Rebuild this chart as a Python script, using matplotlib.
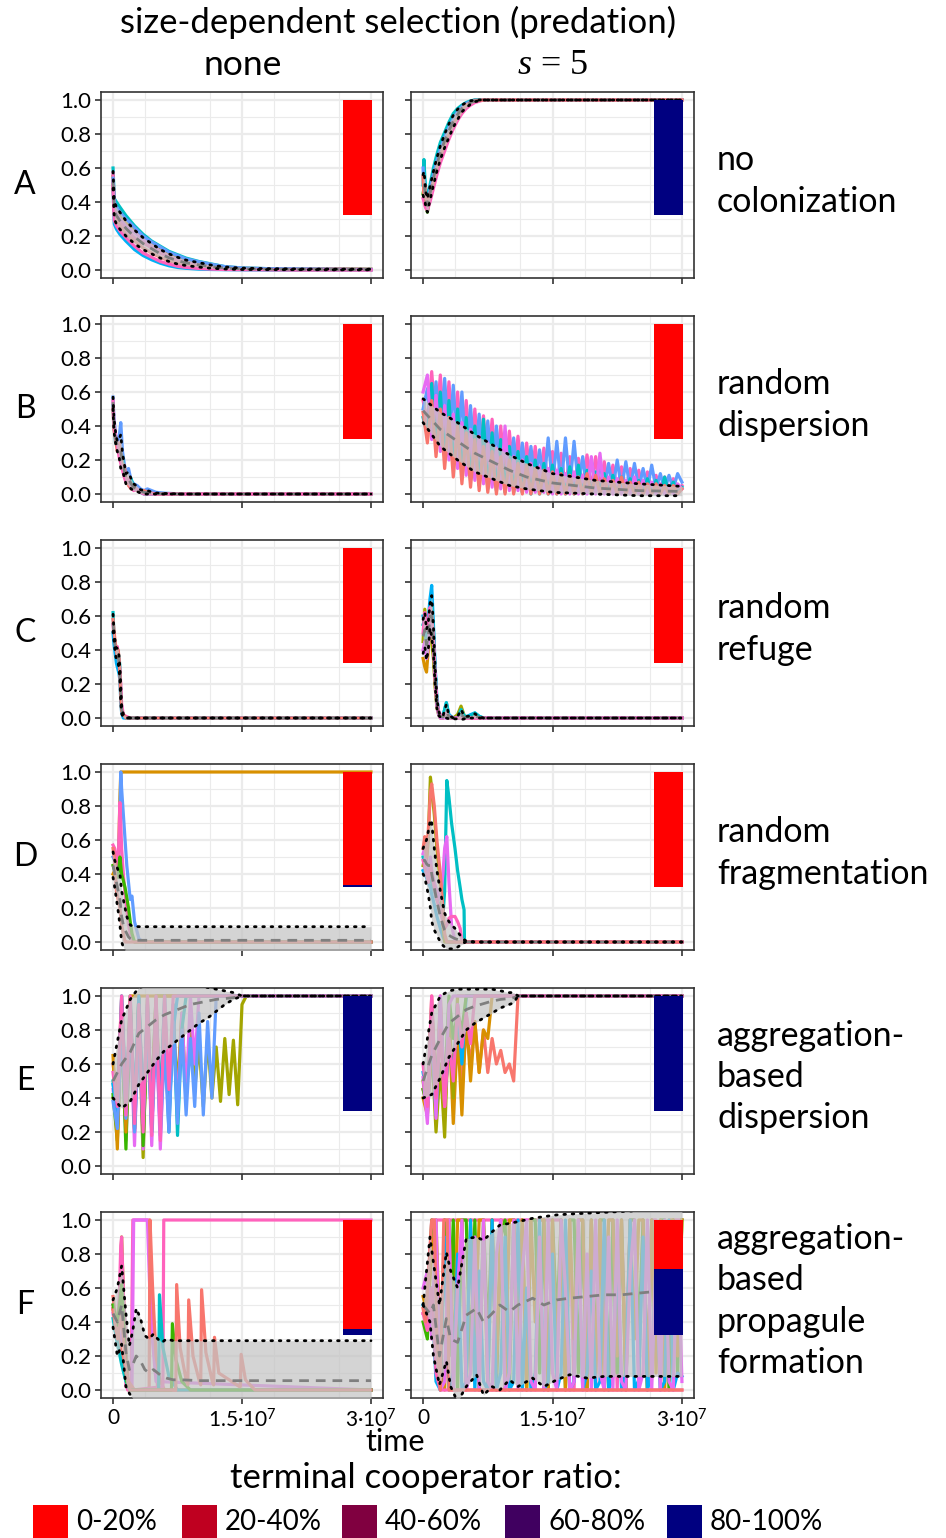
import numpy as np
import matplotlib
matplotlib.use("Agg")
import matplotlib.pyplot as plt
from matplotlib.patches import Rectangle

plt.rcParams['font.family'] = ['Lato', 'DejaVu Sans']
plt.rcParams['mathtext.fontset'] = 'custom'
plt.rcParams['mathtext.rm'] = 'Lato'
plt.rcParams['mathtext.it'] = 'Liberation Serif:italic'

# ---------------------------------------------------------------- data
# time in units of 10^6
TITLE = "size-dependent selection (predation)"
COLS = ["none", "$s$ = 5"]
ROW_LETTERS = ["A", "B", "C", "D", "E", "F"]
ROW_NAMES = ["no\ncolonization", "random\ndispersion", "random\nrefuge",
             "random\nfragmentation", "aggregation-\nbased\ndispersion",
             "aggregation-\nbased\npropagule\nformation"]
BAR_CATS = ["0-20%", "20-40%", "40-60%", "60-80%", "80-100%"]
X_TICKS = [0, 15, 30]
X_TICKLABELS = ["0", "$1.5\u00b710^{7}$", "$3\u00b710^{7}$"]
Y_TICKS = [0.0, 0.2, 0.4, 0.6, 0.8, 1.0]

G61 = list(np.linspace(0, 30, 61))

# ---- A / none
A0_t = [0, 0.15, 0.4, 0.8, 1.5, 2.5, 3.5, 4.5, 5.5, 6.5, 7.5, 8.5, 10, 11.5, 13, 15, 18, 22, 26, 30]
A0_runs = [
    [0.60, 0.42, 0.40, 0.37, 0.32, 0.26, 0.21, 0.17, 0.14, 0.11, 0.09, 0.07, 0.05, 0.035, 0.02, 0.012, 0.008, 0.006, 0.004, 0.003],
    [0.48, 0.27, 0.24, 0.21, 0.17, 0.12, 0.085, 0.06, 0.04, 0.025, 0.015, 0.01, 0.005, 0.003, 0.002, 0.001, 0, 0, 0, 0],
    [0.55, 0.38, 0.35, 0.32, 0.28, 0.23, 0.19, 0.16, 0.13, 0.10, 0.08, 0.06, 0.045, 0.03, 0.018, 0.01, 0.008, 0.006, 0.008, 0.005],
    [0.52, 0.36, 0.33, 0.30, 0.26, 0.22, 0.18, 0.14, 0.11, 0.08, 0.06, 0.045, 0.03, 0.02, 0.012, 0.008, 0.005, 0.004, 0.003, 0.002],
    [0.57, 0.35, 0.31, 0.28, 0.24, 0.19, 0.16, 0.13, 0.10, 0.075, 0.055, 0.04, 0.025, 0.015, 0.01, 0.006, 0.004, 0.003, 0.004, 0.003],
    [0.50, 0.32, 0.29, 0.26, 0.21, 0.17, 0.13, 0.10, 0.075, 0.055, 0.04, 0.03, 0.02, 0.012, 0.008, 0.005, 0.003, 0.002, 0.002, 0.002],
    [0.54, 0.40, 0.37, 0.34, 0.30, 0.25, 0.20, 0.165, 0.135, 0.105, 0.085, 0.065, 0.048, 0.033, 0.02, 0.012, 0.008, 0.006, 0.005, 0.004],
    [0.49, 0.29, 0.26, 0.23, 0.19, 0.14, 0.10, 0.075, 0.05, 0.035, 0.022, 0.015, 0.009, 0.005, 0.003, 0.002, 0.001, 0, 0, 0],
]
A0_mean = [0.53, 0.35, 0.32, 0.29, 0.245, 0.195, 0.155, 0.125, 0.095, 0.072, 0.055, 0.042, 0.03, 0.019, 0.012, 0.007, 0.005, 0.004, 0.003, 0.003]
A0_hi = [0.58, 0.40, 0.37, 0.34, 0.29, 0.235, 0.19, 0.155, 0.12, 0.095, 0.075, 0.058, 0.043, 0.028, 0.018, 0.011, 0.008, 0.006, 0.005, 0.005]
A0_lo = [0.48, 0.30, 0.27, 0.24, 0.20, 0.155, 0.12, 0.095, 0.07, 0.05, 0.035, 0.026, 0.017, 0.01, 0.006, 0.003, 0.002, 0.002, 0.001, 0.001]
A0_bar = [1.0, 0, 0, 0, 0]

# ---- A / s=5
A1_t = [0, 0.1, 0.2, 0.35, 0.5, 0.8, 1.2, 1.6, 2.0, 2.5, 3.0, 3.5, 4.0, 4.5, 5.0, 5.5, 6.0, 7, 10, 15, 20, 25, 30]
A1_runs = [
    [0.50, 0.65, 0.55, 0.45, 0.42, 0.50, 0.60, 0.68, 0.75, 0.81, 0.87, 0.92, 0.95, 0.97, 0.985, 0.995, 1.0, 1.0, 1.0, 1.0, 1.0, 1.0, 1.0],
    [0.45, 0.48, 0.44, 0.37, 0.34, 0.44, 0.53, 0.61, 0.69, 0.76, 0.82, 0.88, 0.92, 0.95, 0.975, 0.99, 1.0, 1.0, 1.0, 1.0, 1.0, 1.0, 1.0],
    [0.60, 0.52, 0.48, 0.42, 0.40, 0.47, 0.56, 0.64, 0.71, 0.78, 0.84, 0.89, 0.93, 0.96, 0.98, 0.99, 1.0, 1.0, 1.0, 1.0, 1.0, 1.0, 1.0],
    [0.42, 0.40, 0.38, 0.36, 0.35, 0.40, 0.48, 0.56, 0.63, 0.70, 0.77, 0.83, 0.88, 0.92, 0.95, 0.97, 0.985, 1.0, 1.0, 1.0, 1.0, 1.0, 1.0],
    [0.55, 0.45, 0.50, 0.40, 0.38, 0.45, 0.52, 0.60, 0.67, 0.74, 0.80, 0.86, 0.90, 0.94, 0.97, 0.985, 0.995, 1.0, 1.0, 1.0, 1.0, 1.0, 1.0],
]
A1_mean = [0.50, 0.50, 0.47, 0.40, 0.38, 0.45, 0.54, 0.62, 0.69, 0.76, 0.82, 0.875, 0.915, 0.95, 0.97, 0.985, 0.995, 1.0, 1.0, 1.0, 1.0, 1.0, 1.0]
A1_hi = [0.56, 0.58, 0.53, 0.45, 0.42, 0.49, 0.58, 0.66, 0.73, 0.80, 0.86, 0.91, 0.945, 0.97, 0.985, 0.995, 1.0, 1.0, 1.0, 1.0, 1.0, 1.0, 1.0]
A1_lo = [0.44, 0.42, 0.41, 0.36, 0.34, 0.41, 0.50, 0.58, 0.65, 0.72, 0.78, 0.84, 0.885, 0.93, 0.955, 0.975, 0.99, 1.0, 1.0, 1.0, 1.0, 1.0, 1.0]
A1_bar = [0, 0, 0, 0, 1.0]

# ---- B / none
B0_t = [0, 0.1, 0.3, 0.5, 0.7, 0.9, 1.1, 1.3, 1.5, 1.8, 2.1, 2.4, 2.8, 3.2, 3.6, 4.0, 4.5, 5.0, 6, 8, 10, 15, 20, 25, 30]
B0_runs = [
    [0.57, 0.45, 0.35, 0.30, 0.33, 0.42, 0.25, 0.18, 0.12, 0.15, 0.08, 0.06, 0.05, 0.03, 0.02, 0.03, 0.02, 0.01, 0.005, 0, 0, 0, 0, 0, 0],
    [0.52, 0.40, 0.30, 0.28, 0.25, 0.20, 0.22, 0.12, 0.08, 0.06, 0.09, 0.04, 0.02, 0.01, 0, 0, 0, 0, 0, 0, 0, 0, 0, 0, 0],
    [0.50, 0.38, 0.32, 0.25, 0.30, 0.22, 0.15, 0.17, 0.10, 0.05, 0.03, 0.05, 0.02, 0.01, 0.02, 0.01, 0.005, 0, 0, 0, 0, 0, 0, 0, 0],
    [0.55, 0.42, 0.34, 0.29, 0.22, 0.18, 0.14, 0.10, 0.07, 0.09, 0.04, 0.02, 0.03, 0.01, 0, 0, 0, 0, 0, 0, 0, 0, 0, 0, 0],
]
B0_mean = [0.54, 0.41, 0.33, 0.28, 0.27, 0.25, 0.19, 0.14, 0.09, 0.09, 0.06, 0.04, 0.03, 0.015, 0.01, 0.01, 0.006, 0.003, 0.001, 0, 0, 0, 0, 0, 0]
B0_hi = [0.57, 0.45, 0.36, 0.31, 0.32, 0.35, 0.24, 0.18, 0.12, 0.13, 0.09, 0.06, 0.045, 0.025, 0.02, 0.02, 0.012, 0.006, 0.003, 0, 0, 0, 0, 0, 0]
B0_lo = [0.50, 0.37, 0.30, 0.25, 0.22, 0.15, 0.14, 0.10, 0.06, 0.05, 0.03, 0.02, 0.015, 0.005, 0, 0, 0, 0, 0, 0, 0, 0, 0, 0, 0]
B0_bar = [1.0, 0, 0, 0, 0]

# ---- B / s=5  (runs on the 0.5-step grid)
B1_runs = [
    [0.55, 0.42, 0.72, 0.38, 0.70, 0.33, 0.66, 0.28, 0.60, 0.24,
     0.55, 0.20, 0.50, 0.17, 0.46, 0.14, 0.44, 0.12, 0.40, 0.10,
     0.37, 0.09, 0.34, 0.08, 0.30, 0.07, 0.28, 0.06, 0.27, 0.05,
     0.25, 0.05, 0.24, 0.04, 0.22, 0.04, 0.21, 0.04, 0.23, 0.03,
     0.22, 0.03, 0.19, 0.03, 0.17, 0.03, 0.16, 0.02, 0.15, 0.02,
     0.14, 0.02, 0.13, 0.02, 0.11, 0.02, 0.10, 0.02, 0.09, 0.02,
     0.05],
    [0.50, 0.62, 0.36, 0.66, 0.31, 0.68, 0.27, 0.64, 0.23, 0.60,
     0.19, 0.52, 0.16, 0.47, 0.13, 0.43, 0.11, 0.40, 0.10, 0.36,
     0.08, 0.33, 0.07, 0.30, 0.06, 0.28, 0.05, 0.26, 0.05, 0.33,
     0.05, 0.31, 0.04, 0.33, 0.04, 0.31, 0.04, 0.22, 0.03, 0.20,
     0.03, 0.19, 0.03, 0.18, 0.03, 0.20, 0.03, 0.19, 0.03, 0.18,
     0.03, 0.15, 0.03, 0.17, 0.03, 0.12, 0.02, 0.11, 0.03, 0.12,
     0.07],
    [0.45, 0.35, 0.65, 0.28, 0.60, 0.22, 0.55, 0.17, 0.50, 0.12,
     0.45, 0.08, 0.40, 0.05, 0.44, 0.03, 0.36, 0.02, 0.32, 0.01,
     0.28, 0.01, 0.25, 0.01, 0.22, 0.00, 0.20, 0.00, 0.18, 0.00,
     0.17, 0.00, 0.15, 0.00, 0.16, 0.00, 0.17, 0.00, 0.14, 0.00,
     0.13, 0.00, 0.12, 0.00, 0.11, 0.00, 0.10, 0.00, 0.09, 0.00,
     0.08, 0.00, 0.09, 0.00, 0.08, 0.00, 0.10, 0.00, 0.07, 0.00,
     0.04],
    [0.60, 0.70, 0.32, 0.58, 0.25, 0.52, 0.20, 0.47, 0.15, 0.42,
     0.11, 0.38, 0.08, 0.34, 0.06, 0.30, 0.04, 0.27, 0.03, 0.40,
     0.02, 0.22, 0.02, 0.20, 0.01, 0.18, 0.01, 0.16, 0.01, 0.15,
     0.00, 0.14, 0.00, 0.12, 0.00, 0.13, 0.00, 0.11, 0.00, 0.22,
     0.00, 0.24, 0.00, 0.10, 0.00, 0.09, 0.00, 0.08, 0.00, 0.10,
     0.00, 0.08, 0.00, 0.07, 0.00, 0.06, 0.00, 0.05, 0.00, 0.06,
     0.03],
    [0.48, 0.30, 0.55, 0.22, 0.50, 0.15, 0.45, 0.10, 0.40, 0.06,
     0.36, 0.04, 0.32, 0.02, 0.28, 0.01, 0.25, 0.00, 0.22, 0.00,
     0.20, 0.00, 0.18, 0.00, 0.17, 0.00, 0.15, 0.00, 0.14, 0.00,
     0.13, 0.00, 0.12, 0.00, 0.11, 0.00, 0.10, 0.00, 0.12, 0.00,
     0.11, 0.00, 0.09, 0.00, 0.08, 0.00, 0.10, 0.00, 0.07, 0.00,
     0.07, 0.00, 0.06, 0.00, 0.06, 0.00, 0.05, 0.00, 0.05, 0.00,
     0.03],
]
B1_band_t = [0, 2, 4, 6, 8, 10, 12, 15, 20, 25, 30]
B1_hi = [0.56, 0.48, 0.42, 0.35, 0.29, 0.23, 0.18, 0.12, 0.08, 0.06, 0.045]
B1_mean = [0.49, 0.38, 0.31, 0.24, 0.19, 0.14, 0.10, 0.065, 0.035, 0.02, 0.015]
B1_lo = [0.42, 0.28, 0.20, 0.13, 0.09, 0.05, 0.03, 0.01, 0.0, -0.01, -0.01]
B1_bar = [1.0, 0, 0, 0, 0]

# ---- C / none
C0_t = [0, 0.1, 0.2, 0.3, 0.4, 0.5, 0.6, 0.7, 0.8, 0.9, 1.0, 1.2, 1.5, 2, 3, 5, 10, 20, 30]
C0_runs = [
    [0.62, 0.50, 0.45, 0.42, 0.41, 0.40, 0.38, 0.36, 0.30, 0.15, 0.05, 0.01, 0.0, 0, 0, 0, 0, 0, 0],
    [0.55, 0.48, 0.44, 0.40, 0.38, 0.42, 0.37, 0.33, 0.28, 0.20, 0.08, 0.02, 0.01, 0, 0, 0, 0, 0, 0],
    [0.50, 0.44, 0.40, 0.36, 0.32, 0.30, 0.28, 0.26, 0.22, 0.10, 0.03, 0, 0, 0, 0, 0, 0, 0, 0],
    [0.58, 0.52, 0.47, 0.43, 0.39, 0.36, 0.40, 0.35, 0.25, 0.12, 0.04, 0.02, 0, 0, 0, 0, 0, 0, 0],
]
C0_mean = [0.56, 0.49, 0.44, 0.40, 0.375, 0.37, 0.36, 0.325, 0.26, 0.14, 0.05, 0.012, 0.003, 0, 0, 0, 0, 0, 0]
C0_hi = [0.61, 0.52, 0.47, 0.43, 0.41, 0.41, 0.40, 0.36, 0.30, 0.19, 0.075, 0.022, 0.008, 0, 0, 0, 0, 0, 0]
C0_lo = [0.51, 0.46, 0.41, 0.37, 0.34, 0.33, 0.32, 0.29, 0.22, 0.09, 0.025, 0.002, 0, 0, 0, 0, 0, 0, 0]
C0_bar = [1.0, 0, 0, 0, 0]

# ---- C / s=5
C1_t = [0, 0.2, 0.4, 0.6, 0.8, 1.0, 1.2, 1.4, 1.6, 1.8, 2.0, 2.3, 2.7, 3.0, 3.5, 4.0, 4.4, 4.8, 5.5, 6.0, 6.5, 7, 10, 20, 30]
C1_runs = [
    [0.60, 0.55, 0.50, 0.58, 0.70, 0.78, 0.55, 0.30, 0.12, 0.04, 0.01, 0.01, 0.09, 0.02, 0.0, 0.0, 0.01, 0.0, 0.02, 0.03, 0.01, 0.0, 0, 0, 0],
    [0.35, 0.30, 0.27, 0.40, 0.55, 0.50, 0.40, 0.20, 0.08, 0.03, 0.01, 0, 0.02, 0.0, 0, 0, 0, 0, 0, 0, 0, 0, 0, 0, 0],
    [0.45, 0.64, 0.45, 0.50, 0.52, 0.45, 0.35, 0.18, 0.06, 0.02, 0.0, 0.0, 0.02, 0.0, 0.0, 0.02, 0.07, 0.01, 0.0, 0.01, 0.0, 0, 0, 0, 0],
    [0.55, 0.58, 0.40, 0.45, 0.62, 0.66, 0.52, 0.28, 0.10, 0.03, 0.01, 0.01, 0.09, 0.01, 0, 0, 0.05, 0.01, 0.01, 0.03, 0.01, 0, 0, 0, 0],
    [0.40, 0.45, 0.35, 0.42, 0.55, 0.58, 0.45, 0.22, 0.07, 0.02, 0, 0, 0, 0, 0, 0, 0, 0, 0, 0, 0, 0, 0, 0, 0],
    [0.50, 0.62, 0.52, 0.55, 0.65, 0.60, 0.48, 0.25, 0.10, 0.04, 0.02, 0.01, 0.03, 0.01, 0, 0, 0, 0, 0, 0, 0, 0, 0, 0, 0],
]
C1_mean = [0.48, 0.52, 0.43, 0.48, 0.60, 0.60, 0.46, 0.24, 0.09, 0.03, 0.01, 0.005, 0.04, 0.007, 0, 0.003, 0.02, 0.003, 0.005, 0.012, 0.003, 0, 0, 0, 0]
C1_hi = [0.58, 0.62, 0.52, 0.56, 0.67, 0.72, 0.54, 0.29, 0.12, 0.04, 0.015, 0.01, 0.08, 0.015, 0.0, 0.008, 0.05, 0.008, 0.012, 0.025, 0.008, 0, 0, 0, 0]
C1_lo = [0.38, 0.42, 0.34, 0.40, 0.53, 0.48, 0.38, 0.19, 0.06, 0.015, 0.005, 0, 0.0, -0.005, -0.005, -0.005, -0.01, -0.005, 0, 0, 0, 0, 0, 0, 0]
C1_bar = [1.0, 0, 0, 0, 0]

# ---- D / none
D0_t = [0, 0.2, 0.4, 0.6, 0.8, 0.9, 1.0, 1.2, 1.4, 1.6, 1.8, 2.0, 2.2, 2.5, 3.0, 3.5, 5, 10, 20, 30]
D0_runs = [
    [0.40, 0.42, 0.45, 0.40, 0.85, 1.0, 1.0, 1.0, 1.0, 1.0, 1.0, 1.0, 1.0, 1.0, 1.0, 1.0, 1.0, 1.0, 1.0, 1.0],
    [0.50, 0.48, 0.45, 0.42, 0.70, 1.0, 0.90, 0.75, 0.60, 0.45, 0.35, 0.25, 0.27, 0.12, 0.02, 0, 0, 0, 0, 0],
    [0.57, 0.55, 0.50, 0.45, 0.82, 0.70, 0.55, 0.40, 0.28, 0.18, 0.10, 0.05, 0.02, 0, 0, 0, 0, 0, 0, 0],
    [0.45, 0.42, 0.40, 0.38, 0.50, 0.45, 0.40, 0.36, 0.32, 0.26, 0.20, 0.12, 0.05, 0, 0, 0, 0, 0, 0, 0],
    [0.55, 0.48, 0.30, 0.25, 0.20, 0.15, 0.10, 0.05, 0, 0, 0, 0, 0, 0, 0, 0, 0, 0, 0, 0],
]
D0_hi = [0.53, 0.48, 0.45, 0.42, 0.40, 0.35, 0.30, 0.25, 0.20, 0.15, 0.12, 0.10, 0.095, 0.092, 0.09, 0.09, 0.09, 0.09, 0.09, 0.09]
D0_mean = [0.45, 0.40, 0.35, 0.30, 0.25, 0.20, 0.15, 0.10, 0.07, 0.05, 0.03, 0.02, 0.015, 0.012, 0.01, 0.01, 0.01, 0.01, 0.01, 0.01]
D0_lo = [0.38, 0.32, 0.25, 0.18, 0.10, 0.05, 0.0, -0.03, -0.05, -0.07, -0.07, -0.07, -0.07, -0.07, -0.07, -0.07, -0.07, -0.07, -0.07, -0.07]
D0_bar = [0.985, 0, 0, 0, 0.015]

# ---- D / s=5
D1_t = [0, 0.2, 0.4, 0.6, 0.85, 1.0, 1.3, 1.6, 2.0, 2.3, 2.5, 2.75, 3.0, 3.3, 3.7, 4.0, 4.3, 4.5, 4.75, 4.8, 6, 10, 20, 30]
D1_runs = [
    [0.42, 0.40, 0.38, 0.35, 0.32, 0.28, 0.22, 0.15, 0.08, 0.03, 0.01, 0, 0, 0, 0, 0, 0, 0, 0, 0, 0, 0, 0, 0],
    [0.45, 0.50, 0.48, 0.60, 0.97, 0.90, 0.75, 0.55, 0.35, 0.10, 0.0, 0, 0, 0, 0, 0, 0, 0, 0, 0, 0, 0, 0, 0],
    [0.50, 0.45, 0.42, 0.40, 0.38, 0.35, 0.30, 0.25, 0.20, 0.15, 0.30, 0.95, 0.85, 0.70, 0.55, 0.42, 0.32, 0.25, 0.19, 0.0, 0, 0, 0, 0],
    [0.52, 0.55, 0.45, 0.40, 0.50, 0.42, 0.35, 0.30, 0.25, 0.40, 0.55, 0.62, 0.35, 0.10, 0.0, 0, 0, 0, 0, 0, 0, 0, 0, 0],
    [0.48, 0.44, 0.40, 0.35, 0.45, 0.40, 0.32, 0.25, 0.18, 0.12, 0.08, 0.10, 0.14, 0.15, 0.15, 0.12, 0.08, 0.0, 0, 0, 0, 0, 0, 0],
    [0.55, 0.62, 0.50, 0.65, 0.88, 0.93, 0.80, 0.60, 0.40, 0.20, 0.05, 0, 0, 0, 0, 0, 0, 0, 0, 0, 0, 0, 0, 0],
]
D1_hi = [0.55, 0.58, 0.60, 0.65, 0.72, 0.70, 0.55, 0.42, 0.30, 0.22, 0.17, 0.14, 0.12, 0.10, 0.08, 0.06, 0.04, 0.03, 0.02, 0.01, 0, 0, 0, 0]
D1_mean = [0.48, 0.48, 0.46, 0.45, 0.45, 0.40, 0.32, 0.24, 0.15, 0.10, 0.07, 0.05, 0.04, 0.03, 0.02, 0.015, 0.01, 0.008, 0.005, 0.0, 0, 0, 0, 0]
D1_lo = [0.40, 0.38, 0.33, 0.28, 0.20, 0.12, 0.07, 0.04, 0.0, -0.02, -0.03, -0.04, -0.04, -0.04, -0.04, -0.03, -0.02, -0.015, -0.01, 0, 0, 0, 0, 0]
D1_bar = [1.0, 0, 0, 0, 0]

# ---- E / none
E0_t = [0, 0.5, 1, 1.5, 2, 2.5, 3, 3.5, 4, 4.5, 5, 5.5, 6, 6.5, 7, 7.5, 8, 8.5,
        9, 9.5, 10, 10.5, 11, 11.5, 12, 12.5, 13, 13.5, 14, 14.5, 15, 15.5, 16, 30]
E0_runs = [
    [0.40, 0.30, 0.85, 0.25, 0.95, 0.20, 0.90, 0.05, 0.98, 0.30, 0.95, 0.35, 0.90, 0.40, 0.85, 0.45, 0.90,
     0.40, 0.88, 0.45, 0.72, 0.35, 0.75, 0.40, 0.70, 0.38, 0.75, 0.42, 0.74, 0.36, 0.95, 1.0, 1.0, 1.0],
    [0.45, 0.25, 0.95, 0.15, 0.85, 0.12, 0.90, 0.10, 0.95, 0.12, 0.85, 0.10, 0.80, 0.25, 0.95, 0.30, 0.90,
     0.40, 1.0, 0.60, 1.0] + [1.0] * 13,
    [0.50, 0.20, 0.90, 0.20, 1.0, 0.30, 1.0, 0.25, 0.90, 0.20, 0.95, 0.25, 0.90, 0.20, 0.95, 0.18, 0.80, 1.0] + [1.0] * 16,
    [0.42, 0.15, 0.85, 0.10, 0.95, 0.22, 1.0, 0.12, 0.80, 0.40, 1.0] + [1.0] * 23,
    [0.60, 0.40, 1.0, 0.35, 0.90, 0.30, 1.0, 0.30, 0.90, 0.35, 1.0, 0.30, 1.0] + [1.0] * 21,
    [0.65, 0.10, 0.95, 0.20, 1.0] + [1.0] * 29,
    [0.48, 0.30, 1.0, 0.40, 0.90, 0.35, 1.0, 0.30, 0.95, 0.25, 0.90, 0.35, 1.0, 0.30, 0.80, 1.0] + [1.0] * 18,
    [0.38, 0.22, 0.80, 0.28, 0.90, 0.20, 0.75, 0.25, 0.85, 0.22, 0.80, 0.18, 0.70, 0.20, 0.85, 0.25, 0.80,
     0.30, 0.75, 0.35, 0.90, 0.30, 0.85, 0.40, 1.0] + [1.0] * 9,
    [0.55, 0.35, 1.0, 0.30, 1.0, 0.25, 0.95, 0.20, 1.0, 0.18, 1.0, 0.15, 1.0, 0.45, 1.0] + [1.0] * 19,
]
E0_band_t = [0, 1, 2, 3, 4, 5, 6, 7, 8, 9, 10, 11, 12, 13, 14, 15, 16, 30]
E0_mean = [0.50, 0.60, 0.67, 0.78, 0.82, 0.86, 0.89, 0.91, 0.93, 0.95, 0.96, 0.97, 0.98, 0.985, 0.99, 1.0, 1.0, 1.0]
E0_lo = [0.40, 0.34, 0.38, 0.48, 0.55, 0.62, 0.68, 0.72, 0.76, 0.80, 0.84, 0.87, 0.91, 0.95, 0.98, 1.0, 1.0, 1.0]
E0_hi = [0.60, 0.86, 0.98, 1.05, 1.06, 1.06, 1.06, 1.06, 1.06, 1.06, 1.06, 1.05, 1.04, 1.03, 1.02, 1.0, 1.0, 1.0]
E0_bar = [0, 0, 0, 0, 1.0]

# ---- E / s=5
E1_t = [0, 0.5, 1, 1.5, 2, 2.5, 3, 3.5, 4, 4.5, 5, 5.5, 6, 6.5, 7, 7.5, 8, 8.5,
        9, 9.5, 10, 10.5, 11, 30]
E1_runs = [
    [0.45, 0.35, 1.0, 0.30, 1.0, 0.40, 0.85, 0.45, 0.95, 0.50, 0.80, 0.60, 0.85, 0.55, 0.80, 0.55, 0.75,
     0.60, 0.68, 0.55, 0.60, 0.50, 1.0, 1.0],
    [0.40, 0.30, 0.90, 0.35, 0.95, 0.30, 0.85, 0.25, 0.80, 0.30, 0.90, 0.50, 0.85, 0.55, 0.80, 0.75, 1.0] + [1.0] * 7,
    [0.50, 0.30, 0.70, 0.20, 0.60, 0.17, 0.90, 0.40, 1.0] + [1.0] * 15,
    [0.55, 0.40, 0.80, 0.30, 0.90, 0.40, 0.70, 0.55, 0.95, 0.60, 1.0] + [1.0] * 13,
    [0.45, 0.35, 0.95, 0.40, 0.85, 0.45, 1.0, 0.75, 0.90, 0.80, 1.0] + [1.0] * 13,
    [0.52, 0.25, 0.90, 0.28, 1.0, 0.35, 0.95, 1.0] + [1.0] * 16,
    [0.60, 0.35, 1.0, 0.40, 0.80, 0.35, 0.75, 0.50, 0.95, 0.70, 0.90, 0.72, 1.0] + [1.0] * 11,
]
E1_band_t = [0, 1, 2, 3, 4, 5, 6, 7, 8, 9, 10, 10.5, 11, 30]
E1_mean = [0.50, 0.65, 0.75, 0.84, 0.88, 0.92, 0.94, 0.955, 0.97, 0.98, 0.985, 0.99, 1.0, 1.0]
E1_lo = [0.40, 0.42, 0.52, 0.64, 0.72, 0.80, 0.84, 0.87, 0.90, 0.93, 0.95, 0.96, 1.0, 1.0]
E1_hi = [0.60, 0.90, 1.0, 1.03, 1.04, 1.04, 1.04, 1.04, 1.04, 1.03, 1.02, 1.02, 1.0, 1.0]
E1_bar = [0, 0, 0, 0, 1.0]

# ---- F / none (each run with its own times)
F0_run_t = [
    [0, 0.4, 0.8, 1.0, 1.3, 1.8, 30],
    [0, 0.3, 0.6, 0.9, 1.0, 1.5, 2.1, 2.3, 4.2, 4.6, 5.2, 30],
    [0, 0.4, 0.8, 1.2, 1.6, 2.2, 2.4, 4.0, 4.4, 5.0, 30],
    [0, 0.5, 1.0, 1.8, 2.5, 4.2, 4.3, 4.6, 5.0, 5.5, 6.0, 30],
    [0, 0.5, 1.0, 1.7, 2.3, 5.8, 5.9, 30],
    [0, 0.5, 1.0, 1.5, 2.0, 5.3, 5.4, 5.8, 6.5, 7.5, 30],
    [0, 0.5, 1.0, 1.6, 2.0, 6.8, 6.9, 7.3, 8.0, 9.0, 30],
    [0, 0.5, 1.0, 1.5, 2.0, 7.3, 7.4, 7.8, 8.5, 8.7, 8.8, 9.3, 10.0, 10.2, 10.3, 10.8, 11.6,
     11.7, 11.8, 12.3, 14.7, 14.8, 14.9, 15.4, 16.5, 30],
]
F0_run_y = [
    [0.48, 0.35, 0.55, 0.90, 0.40, 0.0, 0.0],
    [0.50, 0.40, 0.30, 0.85, 0.90, 0.02, 0.0, 1.0, 1.0, 0.45, 0.0, 0.0],
    [0.45, 0.32, 0.25, 0.40, 0.05, 0.0, 1.0, 1.0, 0.40, 0.05, 0.0],
    [0.55, 0.35, 0.20, 0.05, 0.0, 0.0, 1.0, 0.60, 0.20, 0.05, 0.0, 0.0],
    [0.48, 0.30, 0.80, 0.0, 0.0, 0.02, 1.0, 1.0],
    [0.42, 0.28, 0.15, 0.05, 0.0, 0.0, 0.56, 0.25, 0.08, 0.0, 0.0],
    [0.50, 0.38, 0.62, 0.05, 0.0, 0.0, 0.39, 0.18, 0.05, 0.0, 0.0],
    [0.47, 0.30, 0.45, 0.10, 0.0, 0.0, 0.62, 0.25, 0.06, 0.03, 0.53, 0.20, 0.06, 0.03, 0.59, 0.22, 0.04,
     0.03, 0.31, 0.10, 0.02, 0.02, 0.21, 0.06, 0.0, 0.0],
]
F0_band_t = [0, 0.5, 1.0, 1.5, 1.9, 2.3, 2.7, 3.2, 3.7, 4.2, 4.7, 5.2, 5.7, 6.2, 7, 8, 10, 15, 20, 30]
F0_hi = [0.53, 0.60, 0.73, 0.45, 0.26, 0.35, 0.48, 0.42, 0.32, 0.30, 0.33, 0.30, 0.28, 0.30, 0.29, 0.29, 0.29, 0.29, 0.29, 0.29]
F0_mean = [0.45, 0.40, 0.50, 0.22, 0.12, 0.15, 0.20, 0.17, 0.12, 0.10, 0.12, 0.10, 0.08, 0.07, 0.06, 0.06, 0.055, 0.055, 0.055, 0.055]
F0_lo = [0.37, 0.20, 0.27, 0.02, -0.02, -0.05, -0.08, -0.08, -0.09, -0.09, -0.09, -0.10, -0.10, -0.10, -0.10, -0.10, -0.10, -0.10, -0.10, -0.10]
F0_bar = [0.948, 0, 0, 0, 0.052]

# ---- F / s=5
F1_run_y_grid = [
    [0.45, 0.55, 1.0] + [1.0] * 30 +
    [0.20, 1.00, 0.00, 1.00, 1.00, 0.10, 1.00, 0.00, 1.00, 0.30, 1.00, 1.00, 0.00, 1.00,
     0.20, 1.00, 1.00, 0.00, 1.00, 0.10, 1.00, 1.00, 0.00, 1.00, 0.30, 1.00, 1.00, 1.00],
    [0.40, 0.30, 1.00, 0.90, 0.00, 1.00, 0.20, 1.00, 0.00, 1.00,
     1.00, 0.10, 1.00, 0.00, 1.00, 0.30, 1.00, 0.00, 0.90, 1.00,
     0.00, 1.00, 0.20, 1.00, 0.00, 1.00, 1.00, 0.10, 1.00, 0.00,
     1.00, 0.40, 1.00, 0.00, 1.00, 1.00, 0.10, 1.00, 0.00, 1.00,
     0.20, 1.00, 1.00, 0.00, 1.00, 0.10, 1.00, 0.00, 1.00, 1.00,
     0.30, 1.00, 0.00, 1.00, 0.20, 1.00, 1.00, 0.00, 1.00, 0.10,
     1.00],
    [0.55, 0.45, 0.80, 1.00, 0.20, 0.00, 1.00, 0.10, 1.00, 1.00,
     0.00, 1.00, 0.30, 1.00, 1.00, 0.00, 1.00, 0.10, 1.00, 0.00,
     1.00, 1.00, 0.20, 1.00, 0.00, 1.00, 0.40, 1.00, 1.00, 0.00,
     1.00, 0.10, 1.00, 0.00, 1.00, 0.30, 1.00, 1.00, 0.00, 1.00,
     0.10, 1.00, 0.00, 1.00, 1.00, 0.20, 1.00, 0.00, 1.00, 0.30,
     1.00, 1.00, 0.00, 1.00, 0.10, 1.00, 0.00, 1.00, 1.00, 0.20,
     1.00],
    [0.50, 0.40, 0.60, 0.05, 0.00, 0.90, 0.00, 0.10, 0.80, 0.00,
     0.05, 1.00, 0.00, 0.70, 0.05, 0.00, 1.00, 0.00, 0.10, 0.90,
     0.00, 0.05, 1.00, 0.00, 0.60, 0.00, 0.10, 1.00, 0.00, 0.05,
     0.80, 0.00, 0.10, 1.00, 0.00, 0.05, 0.90, 0.00, 0.10, 0.70,
     0.00, 0.05, 1.00, 0.00, 0.08, 0.85, 0.00, 0.10, 1.00, 0.00,
     0.06, 0.90, 0.00, 0.10, 0.75, 0.00, 0.05, 1.00, 0.00, 0.10,
     0.08],
    [0.60, 0.70, 0.30, 1.00, 0.00, 0.05, 1.00, 0.00, 0.60, 1.00,
     0.00, 0.10, 0.90, 0.00, 1.00, 0.05, 0.00, 0.80, 1.00, 0.00,
     0.10, 1.00, 0.00, 0.70, 1.00, 0.05, 0.00, 0.90, 0.00, 1.00,
     0.10, 0.00, 1.00, 0.60, 0.00, 0.05, 1.00, 0.00, 0.80, 0.00,
     1.00, 0.10, 0.00, 0.90, 0.00, 1.00, 0.05, 0.00, 0.70, 1.00,
     0.00, 0.10, 1.00, 0.00, 0.80, 0.00, 1.00, 0.05, 0.00, 0.90,
     0.05],
]
F1_run_t_extra = [[0, 0.5, 1.0, 1.5, 2.0, 30], [0, 0.3, 0.6, 1.0, 1.3, 1.6, 2.0, 2.4, 2.8, 3.0, 30]]
F1_run_y_extra = [[0.45, 0.35, 0.60, 0.10, 0.0, 0.0], [0.48, 0.40, 0.65, 1.0, 1.0, 0.3, 0.0, 1.0, 1.0, 0.0, 0.0]]
F1_band_t = [0, 0.8, 1.2, 1.9, 2.7, 3.2, 4.0, 5.0, 6.2, 7.0, 8.0, 8.9, 10, 11, 12.7, 14, 15.5, 17, 19, 21, 23, 25, 27, 30]
F1_hi = [0.50, 0.90, 0.75, 0.50, 0.81, 0.70, 0.60, 0.89, 0.90, 0.88, 0.93, 0.97, 0.98, 0.99, 1.01, 1.02, 1.03, 1.035, 1.04, 1.045, 1.05, 1.055, 1.06, 1.06]
F1_mean = [0.50, 0.45, 0.50, 0.20, 0.42, 0.30, 0.28, 0.44, 0.48, 0.40, 0.45, 0.50, 0.46, 0.50, 0.54, 0.50, 0.53, 0.54, 0.55, 0.56, 0.56, 0.57, 0.58, 0.58]
F1_lo = [0.50, 0.40, 0.20, 0.03, 0.17, 0.02, -0.07, 0.02, 0.09, -0.03, 0.02, 0.0, 0.06, 0.02, 0.07, 0.02, 0.06, 0.09, 0.07, 0.08, 0.08, 0.08, 0.08, 0.08]
F1_bar = [0.43, 0, 0, 0, 0.57]

# ---------------------------------------------------------------- style
HUE = {'salmon': '#F8766D', 'orange': '#D89000', 'olive': '#A3A500', 'green': '#39B600',
       'teal': '#00BFC4', 'blue': '#00B0F6', 'lblue': '#619CFF', 'purple': '#E76BF3',
       'pink': '#FF62BC'}
BAR_COLORS = ['#FF0000', '#BF0020', '#800040', '#400060', '#000080']

W, H = 946, 1538
fig = plt.figure(figsize=(W / 100, H / 100), dpi=100)
fig.patch.set_facecolor('white')

COL_X = [101, 411]
COL_W = [282, 283]
ROW_Y = [92, 316, 540, 764, 988, 1212]
ROW_H = 186


def fx(x):
    return x / W


def fy(y):
    return 1 - y / H


def draw_panel(ax, run_t, run_y, colors, band_t, lo, mean, hi, bar, row, col):
    for t, y, c in zip(run_t, run_y, colors):
        ax.plot(t, y, color=HUE[c], lw=2.3, zorder=2, solid_joinstyle='round')
    ax.fill_between(band_t, lo, hi, color='#C4C4C4', alpha=0.72, lw=0, zorder=3)
    ax.plot(band_t, mean, color='#7F7F7F', lw=2.0, ls=(0, (3.5, 2.5)), zorder=4)
    ax.plot(band_t, hi, color='black', lw=2.0, ls=(0, (0.6, 2.4)), dash_capstyle='round', zorder=4)
    ax.plot(band_t, lo, color='black', lw=2.0, ls=(0, (0.6, 2.4)), dash_capstyle='round', zorder=4)
    # terminal cooperator ratio bar (stacked, 80-100% at the bottom)
    base = 0.325
    span = 0.675
    bottom = base
    for frac, bc in zip(bar[::-1], BAR_COLORS[::-1]):
        if frac > 0:
            ax.bar(28.4, frac * span, width=3.35, bottom=bottom, color=bc, zorder=5, lw=0)
        bottom += frac * span
    ax.set_xlim(-1.4, 31.4)
    ax.set_ylim(-0.047, 1.047)
    ax.set_xticks(X_TICKS)
    ax.set_xticks([3.75, 11.25, 18.75, 26.25], minor=True)
    ax.set_yticks(Y_TICKS)
    ax.set_yticks([0.1, 0.3, 0.5, 0.7, 0.9], minor=True)
    ax.grid(which='major', color='#EBEBEB', lw=1.6, zorder=0)
    ax.grid(which='minor', color='#EBEBEB', lw=0.8, zorder=0)
    ax.set_axisbelow(True)
    ax.tick_params(which='major', length=4, width=1.2, color='#333333',
                   labelcolor='black', pad=3)
    ax.tick_params(axis='y', labelsize=16)
    ax.tick_params(axis='x', labelsize=15)
    ax.tick_params(which='minor', length=0)
    ax.set_yticklabels([f"{v:.1f}" for v in Y_TICKS] if col == 0 else [])
    ax.set_xticklabels(X_TICKLABELS if row == 5 else [])
    for s in ax.spines.values():
        s.set_color('#333333')
        s.set_linewidth(1.2)


PANELS = [
    [([A0_t] * 8, A0_runs, ['teal', 'blue', 'orange', 'purple', 'pink', 'salmon', 'lblue', 'pink'],
      A0_t, A0_lo, A0_mean, A0_hi, A0_bar),
     ([A1_t] * 5, A1_runs, ['teal', 'green', 'lblue', 'pink', 'salmon'], A1_t, A1_lo, A1_mean, A1_hi, A1_bar)],
    [([B0_t] * 4, B0_runs, ['lblue', 'teal', 'salmon', 'pink'], B0_t, B0_lo, B0_mean, B0_hi, B0_bar),
     ([G61] * 5, B1_runs, ['pink', 'lblue', 'teal', 'purple', 'salmon'], B1_band_t, B1_lo, B1_mean, B1_hi, B1_bar)],
    [([C0_t] * 4, C0_runs, ['teal', 'pink', 'blue', 'salmon'], C0_t, C0_lo, C0_mean, C0_hi, C0_bar),
     ([C1_t] * 6, C1_runs, ['blue', 'orange', 'olive', 'teal', 'purple', 'pink'], C1_t, C1_lo, C1_mean, C1_hi, C1_bar)],
    [([D0_t] * 5, D0_runs, ['orange', 'lblue', 'pink', 'green', 'salmon'], D0_t, D0_lo, D0_mean, D0_hi, D0_bar),
     ([D1_t] * 6, D1_runs, ['blue', 'olive', 'teal', 'purple', 'pink', 'salmon'], D1_t, D1_lo, D1_mean, D1_hi, D1_bar)],
    [([E0_t] * 9, E0_runs, ['olive', 'purple', 'teal', 'green', 'salmon', 'orange', 'blue', 'lblue', 'pink'],
      E0_band_t, E0_lo, E0_mean, E0_hi, E0_bar),
     ([E1_t] * 7, E1_runs, ['salmon', 'orange', 'olive', 'blue', 'green', 'purple', 'pink'],
      E1_band_t, E1_lo, E1_mean, E1_hi, E1_bar)],
    [(F0_run_t, F0_run_y, ['olive', 'pink', 'purple', 'salmon', 'pink', 'teal', 'green', 'salmon'],
      F0_band_t, F0_lo, F0_mean, F0_hi, F0_bar),
     ([G61] * 5 + F1_run_t_extra, F1_run_y_grid + F1_run_y_extra,
      ['pink', 'green', 'orange', 'blue', 'purple', 'pink', 'salmon'],
      F1_band_t, F1_lo, F1_mean, F1_hi, F1_bar)],
]

for r in range(6):
    for c in range(2):
        ax = fig.add_axes([fx(COL_X[c]), fy(ROW_Y[r] + ROW_H), COL_W[c] / W, ROW_H / H])
        draw_panel(ax, *PANELS[r][c], row=r, col=c)
    fig.text(fx(25), fy(ROW_Y[r] + 93), ROW_LETTERS[r], fontsize=23, ha='center', va='center')
    fig.text(fx(717), fy(ROW_Y[r] + 89), ROW_NAMES[r], fontsize=24.5, ha='left', va='center',
             linespacing=1.36)

fig.text(fx(398), fy(22), TITLE, fontsize=25, ha='center', va='center')
fig.text(fx(243), fy(65), COLS[0], fontsize=25.5, ha='center', va='center')
fig.text(fx(553), fy(65), COLS[1], fontsize=26, ha='center', va='center', family='Liberation Serif')
fig.text(fx(395), fy(1442), "time", fontsize=22, ha='center', va='center')
fig.text(fx(426), fy(1478), "terminal cooperator ratio:", fontsize=25, ha='center', va='center')

LEG_X = [33, 182, 342, 505, 667]
for x0, lab, colr in zip(LEG_X, BAR_CATS, BAR_COLORS):
    fig.patches.append(Rectangle((fx(x0), fy(1538)), 35 / W, 33 / H, transform=fig.transFigure,
                                 facecolor=colr, edgecolor='none'))
    fig.text(fx(x0 + 43), fy(1522), lab, fontsize=20, ha='left', va='center')

fig.savefig('out.png', dpi=100, facecolor='white')
